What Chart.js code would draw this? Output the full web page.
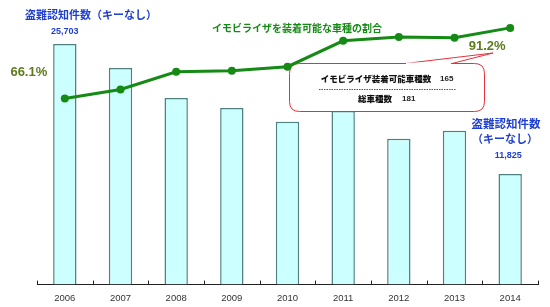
<!DOCTYPE html>
<html lang="ja">
<head>
<meta charset="utf-8">
<title>盗難認知件数とイモビライザ装着可能車種の割合</title>
<script src="https://cdn.jsdelivr.net/npm/chart.js@4/dist/chart.umd.min.js"></script>
<style>
  html, body { margin: 0; padding: 0; background: #fff; }
  #wrap { width: 550px; height: 307px; position: relative; }
</style>
</head>
<body>
<div id="wrap"><canvas id="theft-chart"></canvas></div>
<script>
// ── Data ──────────────────────────────────────────────────────
const years      = ["2006", "2007", "2008", "2009", "2010", "2011", "2012", "2013", "2014"];
const thefts     = [25703, 23140, 19940, 18870, 17380, 18550, 15570, 16420, 11825];
const immoShare  = [66.1, 69.3, 75.6, 76.0, 77.4, 86.6, 88.0, 87.7, 91.2];

const JP  = "'Noto Sans CJK JP', 'Noto Sans', sans-serif";
const NUM = "'Liberation Sans', Arial, sans-serif";
const BLUE  = "#1f3fd0";
const GREEN = "#158a15";
const OLIVE = "#5e7a1e";

// ── Helpers ───────────────────────────────────────────────────
const text = (ctx, str, x, y, font, color, align = "center") => {
  ctx.font = font; ctx.fillStyle = color;
  ctx.textAlign = align; ctx.textBaseline = "middle";
  ctx.fillText(str, x, y);
};

function roundRect(ctx, x, y, w, h, r) {
  ctx.beginPath();
  ctx.moveTo(x + r, y);
  ctx.lineTo(x + w - r, y);
  ctx.quadraticCurveTo(x + w, y, x + w, y + r);
  ctx.lineTo(x + w, y + h - r);
  ctx.quadraticCurveTo(x + w, y + h, x + w - r, y + h);
  ctx.lineTo(x + r, y + h);
  ctx.quadraticCurveTo(x, y + h, x, y + h - r);
  ctx.lineTo(x, y + r);
  ctx.quadraticCurveTo(x, y, x + r, y);
  ctx.closePath();
}

// ── Callout box (drawn between bars and line) ─────────────────
const calloutPlugin = {
  id: "callout",
  beforeDatasetDraw(chart, args) {
    if (args.meta.type !== "line") return;
    const ctx = chart.ctx;
    ctx.save();
    // pointer toward the 91.2% label
    ctx.beginPath();
    ctx.moveTo(405, 63.5);
    ctx.lineTo(493, 53);
    ctx.lineTo(452, 63.5);
    ctx.fillStyle = "#fff";
    ctx.fill();
    ctx.strokeStyle = "#e8303c";
    ctx.lineWidth = 1;
    ctx.stroke();
    roundRect(ctx, 289.5, 63.5, 195, 48, 10);
    ctx.fillStyle = "#fff";
    ctx.fill();
    ctx.stroke();
    // hide the part of the box edge under the pointer
    ctx.fillStyle = "#fff";
    ctx.fillRect(406, 62.5, 45, 2);

    text(ctx, "イモビライザ装着可能車種数", 376, 79, `900 8.5px ${JP}`, "#111");
    text(ctx, "165", 440, 79, `bold 8px ${NUM}`, "#222", "left");
    ctx.setLineDash([1.5, 1]);
    ctx.strokeStyle = "#555";
    ctx.beginPath(); ctx.moveTo(319, 89.5); ctx.lineTo(456, 89.5); ctx.stroke();
    ctx.setLineDash([]);
    text(ctx, "総車種数", 375, 99, `900 8.5px ${JP}`, "#111");
    text(ctx, "181", 402, 99, `bold 8px ${NUM}`, "#222", "left");
    ctx.restore();
  },
};

// ── Ticks, titles and value labels ────────────────────────────
const labelPlugin = {
  id: "labels",
  afterDraw(chart) {
    const { ctx, chartArea: a, scales: { x, yBar, yPct } } = chart;
    ctx.save();
    // upward tick marks between categories
    ctx.strokeStyle = "#222"; ctx.lineWidth = 1;
    const bounds = [a.left];
    for (let i = 0; i < years.length - 1; i++) {
      bounds.push((x.getPixelForValue(i) + x.getPixelForValue(i + 1)) / 2);
    }
    bounds.push(a.right);
    bounds.forEach((bx) => {
      const px = Math.round(bx) + 0.5;
      ctx.beginPath(); ctx.moveTo(px, a.bottom); ctx.lineTo(px, a.bottom - 4); ctx.stroke();
    });

    // series titles
    text(ctx, "盗難認知件数（キーなし）", 91, 15, `bold 11px ${JP}`, BLUE);
    text(ctx, "イモビライザを装着可能な車種の割合", 297, 28, `bold 10px ${JP}`, GREEN);
    text(ctx, "盗難認知件数", 506, 124, `bold 11.5px ${JP}`, BLUE);
    text(ctx, "（キーなし）", 505, 139, `bold 11px ${JP}`, BLUE);

    // first / last values
    const first = 0, last = years.length - 1;
    text(ctx, thefts[first].toLocaleString("en-US"), x.getPixelForValue(first),
         yBar.getPixelForValue(thefts[first]) - 12, `bold 9px ${NUM}`, BLUE);
    text(ctx, thefts[last].toLocaleString("en-US"), x.getPixelForValue(last) - 2,
         yBar.getPixelForValue(thefts[last]) - 18, `bold 9px ${NUM}`, BLUE);
    text(ctx, immoShare[first].toFixed(1) + "%", x.getPixelForValue(first) - 36,
         yPct.getPixelForValue(immoShare[first]) - 26, `bold 13px ${NUM}`, OLIVE);
    text(ctx, immoShare[last].toFixed(1) + "%", x.getPixelForValue(last) - 23,
         yPct.getPixelForValue(immoShare[last]) + 19, `bold 13px ${NUM}`, OLIVE);
    ctx.restore();
  },
};

// ── Chart ─────────────────────────────────────────────────────
new Chart(document.getElementById("theft-chart"), {
  data: {
    labels: years,
    datasets: [
      {
        type: "line",
        label: "イモビライザを装着可能な車種の割合",
        data: immoShare,
        yAxisID: "yPct",
        borderColor: GREEN,
        backgroundColor: GREEN,
        borderWidth: 3,
        pointRadius: 4,
        pointBorderWidth: 0,
        tension: 0,
        order: 0,
      },
      {
        type: "bar",
        label: "盗難認知件数（キーなし）",
        data: thefts,
        yAxisID: "yBar",
        backgroundColor: "#ccffff",
        borderColor: "#4f8080",
        borderWidth: 1.5,
        barPercentage: 0.42,
        categoryPercentage: 1,
        order: 1,
      },
    ],
  },
  options: {
    responsive: true,
    maintainAspectRatio: false,
    animation: false,
    layout: { padding: { left: 37, right: 12, top: 20, bottom: 3 } },
    plugins: { legend: { display: false }, tooltip: { enabled: false } },
    scales: {
      x: {
        grid: { display: false },
        border: { display: true, color: "#222", width: 1 },
        ticks: { color: "#333", padding: 0, font: { family: NUM, size: 9.5 } },
      },
      yBar: { display: false, min: 0, max: 28260 },
      yPct: { display: false, min: 0, max: 94 },
    },
  },
  plugins: [calloutPlugin, labelPlugin],
});
</script>
</body>
</html>
